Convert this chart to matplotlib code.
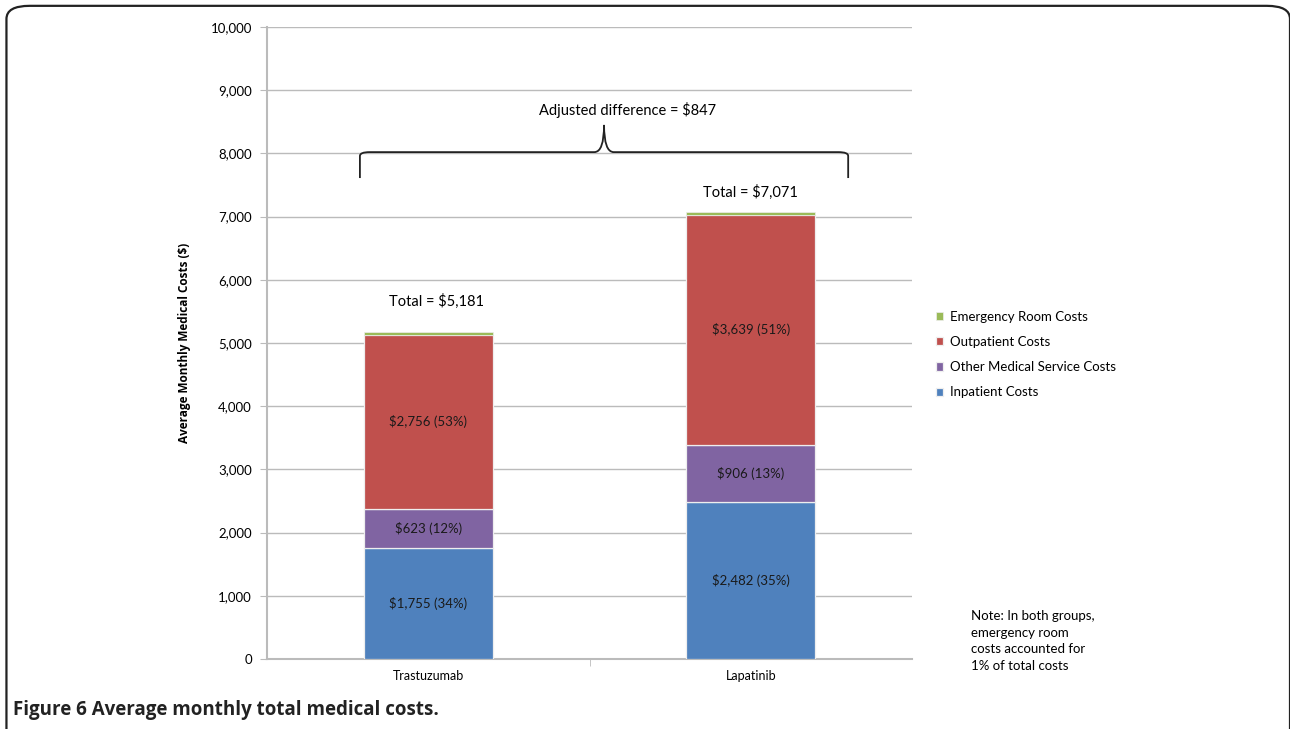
import numpy as np
import matplotlib.pyplot as plt
from matplotlib.patches import FancyBboxPatch
from matplotlib.path import Path
from matplotlib.patches import PathPatch
from matplotlib.ticker import FuncFormatter

plt.rcParams['font.family'] = ['Lato', 'DejaVu Sans']

drugs = ['Trastuzumab', 'Lapatinib']
inpatient = np.array([1755, 2482])
other = np.array([623, 906])
outpatient = np.array([2756, 3639])
emergency = np.array([47, 44])
totals = np.array([5181, 7071])
pct_inpatient = [34, 35]
pct_other = [12, 13]
pct_outpatient = [53, 51]
adjusted_diff = 847

colors = {'inp': '#4F81BD', 'oth': '#8064A2', 'out': '#C0504D', 'er': '#9BBB59'}

fig = plt.figure(figsize=(12.9, 7.29), dpi=100)
ax = fig.add_axes([0.207, 0.096, 0.500, 0.867])

x = np.arange(len(drugs))
w = 0.4
edge = dict(edgecolor='#EEEEEE', linewidth=0.9)
b1 = ax.bar(x, inpatient, w, color=colors['inp'], label='Inpatient Costs', **edge, zorder=3)
b2 = ax.bar(x, other, w, bottom=inpatient, color=colors['oth'],
            label='Other Medical Service Costs', **edge, zorder=3)
b3 = ax.bar(x, outpatient, w, bottom=inpatient + other, color=colors['out'],
            label='Outpatient Costs', **edge, zorder=3)
b4 = ax.bar(x, emergency, w, bottom=inpatient + other + outpatient, color=colors['er'],
            label='Emergency Room Costs', edgecolor='#EEEEEE', linewidth=0.5, zorder=3)

# segment labels
for i in range(len(drugs)):
    ax.text(x[i], inpatient[i] / 2, f'${inpatient[i]:,} ({pct_inpatient[i]}%)',
            ha='center', va='center', fontsize=9.5, color='#1a1a1a', zorder=4)
    ax.text(x[i], inpatient[i] + other[i] / 2, f'${other[i]:,} ({pct_other[i]}%)',
            ha='center', va='center', fontsize=9.5, color='#1a1a1a', zorder=4)
    ax.text(x[i], inpatient[i] + other[i] + outpatient[i] / 2,
            f'${outpatient[i]:,} ({pct_outpatient[i]}%)',
            ha='center', va='center', fontsize=9.5, color='#1a1a1a', zorder=4)

ax.text(0.025, 5660, f'Total = ${totals[0]:,}', ha='center', va='center', fontsize=10.5)
ax.text(1.0, 7390, f'Total = ${totals[1]:,}', ha='center', va='center', fontsize=10.5)

# curly brace over both bars
xl, xr, xm = -0.212, 1.302, 0.545
yb, ye, yt, r = 8020, 7610, 8450, 0.03
verts = [(xl, ye), (xl, yb - 60), (xl, yb), (xl + r, yb),
         (xm - r, yb), (xm, yb), (xm, yt),
         (xm, yb), (xm + r, yb),
         (xr - r, yb), (xr, yb), (xr, yb - 60), (xr, ye)]
codes = [Path.MOVETO, Path.LINETO, Path.CURVE3, Path.CURVE3,
         Path.LINETO, Path.CURVE3, Path.CURVE3,
         Path.CURVE3, Path.CURVE3,
         Path.LINETO, Path.CURVE3, Path.CURVE3, Path.LINETO]
ax.add_patch(PathPatch(Path(verts, codes), facecolor='none', edgecolor='#222222',
                       linewidth=1.3, zorder=4))
ax.text(0.617, 8690, f'Adjusted difference = ${adjusted_diff}', ha='center',
        va='center', fontsize=10.5)

ax.set_xlim(-0.5, 1.5)
ax.set_ylim(0, 10000)
ax.set_yticks(np.arange(0, 10001, 1000))
ax.yaxis.set_major_formatter(FuncFormatter(lambda v, p: f'{int(v):,}'))
ax.set_xticks(x)
ax.set_xticklabels(drugs)
ax.set_xticks([0.5], minor=True)
ax.tick_params(axis='x', which='major', length=0, labelsize=9, pad=8)
ax.tick_params(axis='x', which='minor', length=5, color='#BBBBBB')
ax.tick_params(axis='y', labelsize=9.5, length=5, color='#BBBBBB', pad=6)
ax.grid(axis='y', color='#BBBBBB', linewidth=1, zorder=0)
for s in ['top', 'right']:
    ax.spines[s].set_visible(False)
for s in ['left', 'bottom']:
    ax.spines[s].set_color('#BBBBBB')
    ax.spines[s].set_linewidth(1.5)
ax.set_ylabel('Average Monthly Medical Costs ($)', fontsize=8.5, fontweight='bold',
              labelpad=14, family=['Open Sans', 'DejaVu Sans'])

handles = [b4, b3, b2, b1]
fig.legend(handles, [h.get_label() for h in handles], loc='upper left',
           bbox_to_anchor=(0.716, 0.59), frameon=False, fontsize=9.5,
           handlelength=0.6, handleheight=0.6, handletextpad=0.5, labelspacing=1.0)

fig.text(0.753, 0.163, 'Note: In both groups,\nemergency room\ncosts accounted for\n1% of total costs',
         ha='left', va='top', fontsize=9.5, linespacing=1.45)

fig.text(0.010, 0.026, 'Figure 6 Average monthly total medical costs.', fontsize=13.5,
         fontweight='bold', ha='left', va='center', color='#222222',
         family=['Open Sans', 'DejaVu Sans'])

fig.patches.append(FancyBboxPatch((0.005, -0.02), 0.995, 1.012,
                                  boxstyle='round,pad=0,rounding_size=0.018',
                                  transform=fig.transFigure, facecolor='none',
                                  edgecolor='#222222', linewidth=1.6))

fig.savefig('out.png', dpi=100)
